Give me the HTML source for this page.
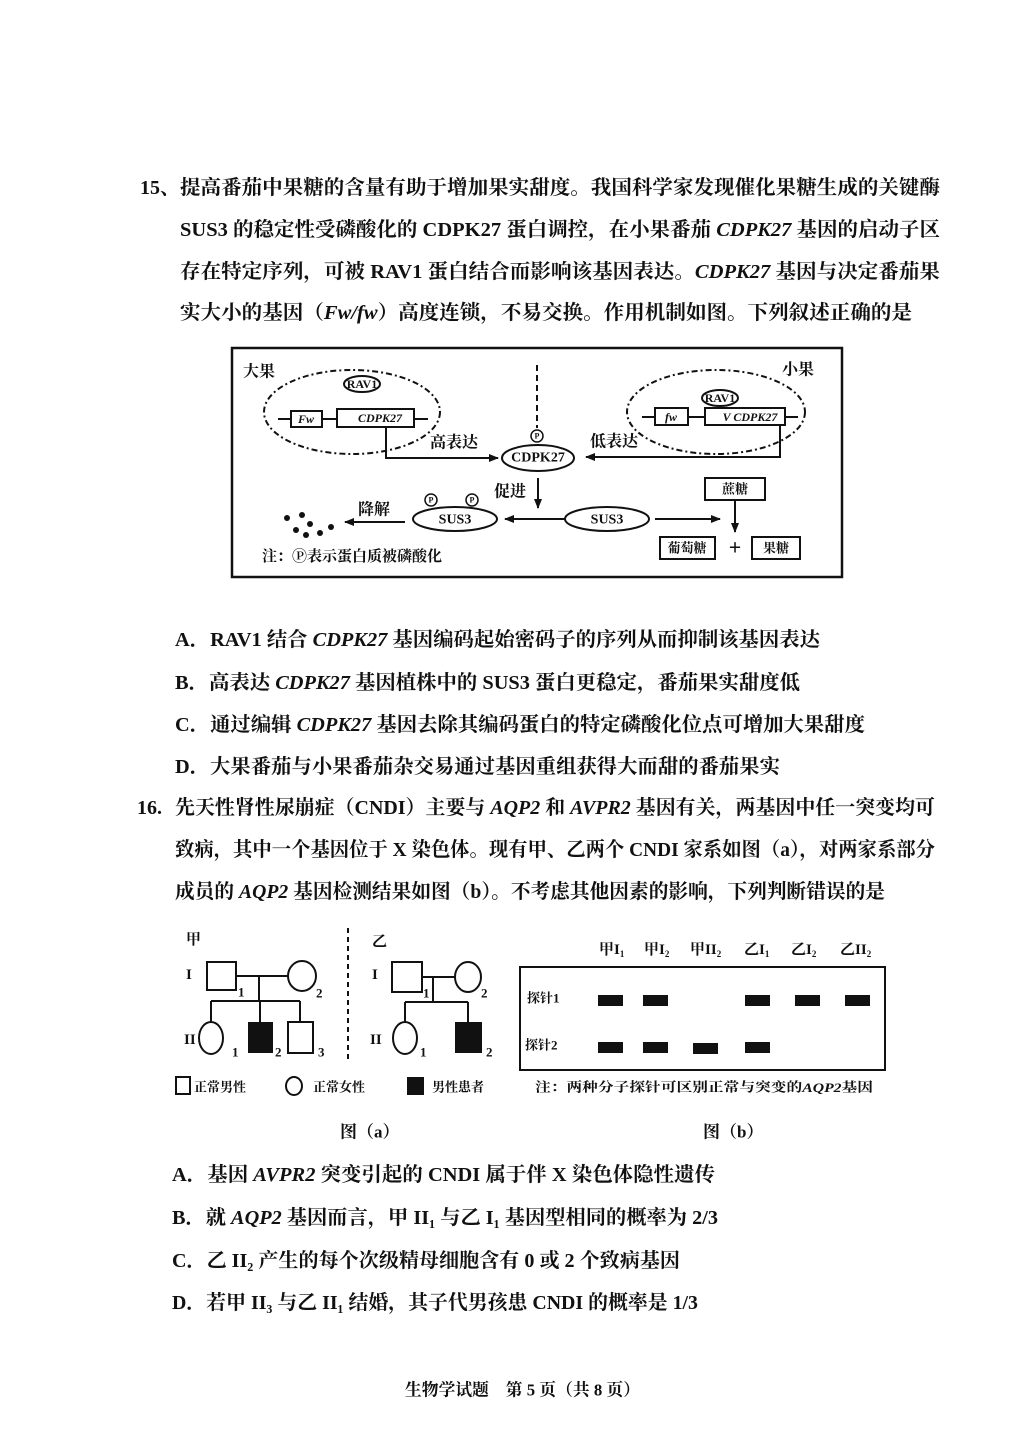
<!DOCTYPE html>
<html><head><meta charset="utf-8"><style>
html,body{margin:0;padding:0;background:#fff}
svg{display:block}
text{font-family:"Liberation Serif","Noto Serif CJK SC",serif;font-weight:700;fill:#111}
.i{font-style:italic}
</style></head><body>
<svg width="1028" height="1436" viewBox="0 0 1028 1436" xmlns="http://www.w3.org/2000/svg">
<g font-size="20" dominant-baseline="central">
<text x="140" y="188">15、</text>
<text x="180" y="188" textLength="760" lengthAdjust="spacingAndGlyphs">提高番茄中果糖的含量有助于增加果实甜度。我国科学家发现催化果糖生成的关键酶</text>
<text x="180" y="230" textLength="760" lengthAdjust="spacingAndGlyphs">SUS3 的稳定性受磷酸化的 CDPK27 蛋白调控，在小果番茄 <tspan class="i">CDPK27</tspan> 基因的启动子区</text>
<text x="180" y="272" textLength="760" lengthAdjust="spacingAndGlyphs">存在特定序列，可被 RAV1 蛋白结合而影响该基因表达。<tspan class="i">CDPK27</tspan> 基因与决定番茄果</text>
<text x="180" y="313" textLength="732" lengthAdjust="spacingAndGlyphs">实大小的基因（<tspan class="i">Fw/fw</tspan>）高度连锁，不易交换。作用机制如图。下列叙述正确的是</text>

<text x="175" y="640" textLength="645" lengthAdjust="spacingAndGlyphs">A．RAV1 结合 <tspan class="i">CDPK27</tspan> 基因编码起始密码子的序列从而抑制该基因表达</text>
<text x="175" y="683" textLength="625" lengthAdjust="spacingAndGlyphs">B．高表达 <tspan class="i">CDPK27</tspan> 基因植株中的 SUS3 蛋白更稳定，番茄果实甜度低</text>
<text x="175" y="725" textLength="690" lengthAdjust="spacingAndGlyphs">C．通过编辑 <tspan class="i">CDPK27</tspan> 基因去除其编码蛋白的特定磷酸化位点可增加大果甜度</text>
<text x="175" y="767" textLength="605" lengthAdjust="spacingAndGlyphs">D．大果番茄与小果番茄杂交易通过基因重组获得大而甜的番茄果实</text>

<text x="137" y="808">16.</text>
<text x="175" y="808" textLength="760" lengthAdjust="spacingAndGlyphs">先天性肾性尿崩症（CNDI）主要与 <tspan class="i">AQP2</tspan> 和 <tspan class="i">AVPR2</tspan> 基因有关，两基因中任一突变均可</text>
<text x="175" y="850" textLength="760" lengthAdjust="spacingAndGlyphs">致病，其中一个基因位于 X 染色体。现有甲、乙两个 CNDI 家系如图（a），对两家系部分</text>
<text x="175" y="892" textLength="710" lengthAdjust="spacingAndGlyphs">成员的 <tspan class="i">AQP2</tspan> 基因检测结果如图（b）。不考虑其他因素的影响，下列判断错误的是</text>

<text x="172" y="1175" textLength="543" lengthAdjust="spacingAndGlyphs">A．基因 <tspan class="i">AVPR2</tspan> 突变引起的 CNDI 属于伴 X 染色体隐性遗传</text>
<text x="172" y="1218" textLength="546" lengthAdjust="spacingAndGlyphs">B．就 <tspan class="i">AQP2</tspan> 基因而言，甲 II₁ 与乙 I₁ 基因型相同的概率为 2/3</text>
<text x="172" y="1261" textLength="508" lengthAdjust="spacingAndGlyphs">C．乙 II₂ 产生的每个次级精母细胞含有 0 或 2 个致病基因</text>
<text x="172" y="1303" textLength="526" lengthAdjust="spacingAndGlyphs">D．若甲 II₃ 与乙 II₁ 结婚，其子代男孩患 CNDI 的概率是 1/3</text>

<text x="405" y="1390" font-size="17" textLength="235" lengthAdjust="spacingAndGlyphs">生物学试题　第 5 页（共 8 页）</text>
</g>

<!-- Diagram 1 -->
<defs><marker id="ar" markerWidth="10" markerHeight="8" refX="9" refY="4" orient="auto" markerUnits="userSpaceOnUse"><path d="M0,0 L10,4 L0,8 z" fill="#111"/></marker></defs>
<rect x="232" y="348" width="610" height="229" fill="none" stroke="#111" stroke-width="2.5"/>
<g font-size="16" dominant-baseline="central">
<text x="243" y="372">大果</text><text x="782" y="370">小果</text>
<text x="430" y="443">高表达</text><text x="590" y="442">低表达</text>
<text x="494" y="492">促进</text><text x="358" y="510">降解</text>
<text x="262" y="557" font-size="15">注：Ⓟ表示蛋白质被磷酸化</text>
</g>
<g fill="none" stroke="#111" stroke-width="2">
<ellipse cx="352" cy="412" rx="88" ry="42" stroke-dasharray="6,3,2,3"/>
<ellipse cx="716" cy="412" rx="89" ry="42" stroke-dasharray="6,3,2,3"/>
<ellipse cx="362" cy="384" rx="18" ry="8"/>
<ellipse cx="720" cy="398" rx="18" ry="8"/>
<line x1="278" y1="419" x2="291" y2="419"/><rect x="291" y="411" width="31" height="16"/><line x1="322" y1="419" x2="337" y2="419"/><rect x="337" y="409" width="77" height="18"/><line x1="414" y1="419" x2="428" y2="419"/>
<line x1="642" y1="417" x2="655" y2="417"/><rect x="655" y="408" width="33" height="17"/><line x1="688" y1="417" x2="705" y2="417"/><rect x="705" y="408" width="80" height="17"/><line x1="785" y1="417" x2="798" y2="417"/>
<polyline points="386,427 386,458 498,458" marker-end="url(#ar)"/>
<polyline points="780,425 780,457 586,457" marker-end="url(#ar)"/>
<line x1="537" y1="365" x2="537" y2="428" stroke-dasharray="6,4"/>
<ellipse cx="538" cy="458" rx="36" ry="13"/>
<circle cx="537" cy="436" r="6" stroke-width="1.5"/>
<line x1="538" y1="478" x2="538" y2="508" marker-end="url(#ar)"/>
<ellipse cx="455" cy="519" rx="42" ry="12"/>
<circle cx="431" cy="500" r="6" stroke-width="1.5"/><circle cx="472" cy="500" r="6" stroke-width="1.5"/>
<ellipse cx="607" cy="519" rx="42" ry="12"/>
<line x1="565" y1="519" x2="505" y2="519" marker-end="url(#ar)"/>
<line x1="655" y1="519" x2="720" y2="519" marker-end="url(#ar)"/>
<line x1="405" y1="522" x2="345" y2="522" marker-end="url(#ar)"/>
<rect x="705" y="478" width="60" height="22"/>
<line x1="735" y1="500" x2="735" y2="532" marker-end="url(#ar)"/>
<rect x="660" y="537" width="55" height="22"/><rect x="752" y="537" width="48" height="22"/>
</g>
<g font-size="12" dominant-baseline="central" text-anchor="middle">
<text x="362" y="384">RAV1</text><text x="720" y="398">RAV1</text>
<text x="306" y="419" class="i">Fw</text><text x="380" y="418" class="i">CDPK27</text>
<text x="671" y="417" class="i">fw</text><text x="750" y="417" class="i">V CDPK27</text>
<text x="538" y="458" font-size="14">CDPK27</text>
<text x="537" y="436" font-size="8">P</text><text x="431" y="500" font-size="8">P</text><text x="472" y="500" font-size="8">P</text>
<text x="455" y="520" font-size="14">SUS3</text><text x="607" y="520" font-size="14">SUS3</text>
<text x="735" y="489" font-size="13">蔗糖</text><text x="687" y="548" font-size="13">葡萄糖</text><text x="776" y="548" font-size="13">果糖</text>
<text x="735" y="547" font-size="22">+</text>
</g>
<g fill="#111"><circle cx="287" cy="518" r="3"/><circle cx="302" cy="515" r="3"/><circle cx="310" cy="524" r="3"/><circle cx="296" cy="530" r="3"/><circle cx="320" cy="533" r="3"/><circle cx="331" cy="527" r="3"/><circle cx="306" cy="535" r="3"/></g>

<!-- Pedigree -->
<g font-size="15" dominant-baseline="central">
<text x="186" y="940">甲</text><text x="372" y="942">乙</text>
<text x="186" y="975">I</text><text x="184" y="1040">II</text>
<text x="372" y="975">I</text><text x="370" y="1040">II</text>
<text x="238" y="992" font-size="13">1</text><text x="316" y="993" font-size="13">2</text>
<text x="232" y="1052" font-size="13">1</text><text x="275" y="1052" font-size="13">2</text><text x="318" y="1052" font-size="13">3</text>
<text x="423" y="993" font-size="13">1</text><text x="481" y="993" font-size="13">2</text>
<text x="420" y="1052" font-size="13">1</text><text x="486" y="1052" font-size="13">2</text>
<text x="599" y="950">甲I<tspan font-size="9" dy="4">1</tspan></text>
<text x="644" y="950">甲I<tspan font-size="9" dy="4">2</tspan></text>
<text x="690" y="950">甲II<tspan font-size="9" dy="4">2</tspan></text>
<text x="744" y="950">乙I<tspan font-size="9" dy="4">1</tspan></text>
<text x="791" y="950">乙I<tspan font-size="9" dy="4">2</tspan></text>
<text x="840" y="950">乙II<tspan font-size="9" dy="4">2</tspan></text>
<text x="527" y="998" font-size="13">探针1</text><text x="525" y="1045" font-size="13">探针2</text>
<text x="194" y="1087" font-size="13">正常男性</text><text x="313" y="1087" font-size="13">正常女性</text><text x="432" y="1087" font-size="13">男性患者</text>
<text x="535" y="1087" font-size="13" textLength="338" lengthAdjust="spacingAndGlyphs">注：两种分子探针可区别正常与突变的<tspan class="i">AQP2</tspan>基因</text>
<text x="340" y="1132" font-size="17">图（a）</text><text x="703" y="1132" font-size="17">图（b）</text>
</g>
<g fill="none" stroke="#111" stroke-width="2">
<rect x="207" y="962" width="29" height="28"/><ellipse cx="302" cy="976" rx="14" ry="15"/>
<line x1="236" y1="976" x2="288" y2="976"/><line x1="259" y1="976" x2="259" y2="1001"/>
<line x1="211" y1="1001" x2="300" y2="1001"/><line x1="211" y1="1001" x2="211" y2="1022"/><line x1="260" y1="1001" x2="260" y2="1022"/><line x1="300" y1="1001" x2="300" y2="1022"/>
<ellipse cx="211" cy="1038" rx="12" ry="16"/><rect x="288" y="1022" width="25" height="31"/>
<line x1="348" y1="928" x2="348" y2="1060" stroke-dasharray="5,4"/>
<rect x="392" y="962" width="30" height="30"/><ellipse cx="468" cy="977" rx="13" ry="15"/>
<line x1="422" y1="977" x2="455" y2="977"/><line x1="433" y1="977" x2="433" y2="1002"/>
<line x1="405" y1="1002" x2="468" y2="1002"/><line x1="405" y1="1002" x2="405" y2="1022"/><line x1="468" y1="1002" x2="468" y2="1022"/>
<ellipse cx="405" cy="1038" rx="12" ry="16"/>
<rect x="520" y="967" width="365" height="103"/>
<rect x="176" y="1077" width="14" height="17"/><ellipse cx="294" cy="1086" rx="8" ry="9"/>
</g>
<g fill="#111">
<rect x="248" y="1022" width="25" height="31"/><rect x="455" y="1022" width="27" height="31"/>
<rect x="407" y="1077" width="17" height="18"/>
<rect x="598" y="995" width="25" height="11"/><rect x="643" y="995" width="25" height="11"/><rect x="745" y="995" width="25" height="11"/><rect x="795" y="995" width="25" height="11"/><rect x="845" y="995" width="25" height="11"/>
<rect x="598" y="1042" width="25" height="11"/><rect x="643" y="1042" width="25" height="11"/><rect x="693" y="1043" width="25" height="11"/><rect x="745" y="1042" width="25" height="11"/>
</g>
</svg>
</body></html>
